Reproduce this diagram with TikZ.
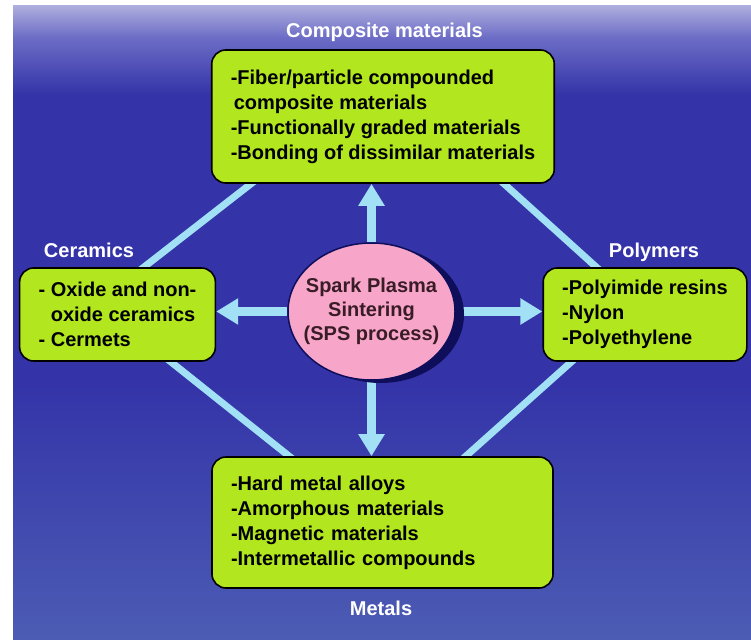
\documentclass[tikz,border=0pt]{standalone}
\usepackage{fontspec}
\setmainfont{Liberation Sans}
\usetikzlibrary{arrows.meta,calc,positioning,shapes.geometric,shadows}

\definecolor{seatop}{HTML}{ADADDE}
\definecolor{seahaze}{HTML}{6C6CC6}
\definecolor{seamid}{HTML}{3434A8}
\definecolor{seabot}{HTML}{4C5CB4}
\definecolor{limebox}{HTML}{B2E61E}
\definecolor{skyline}{HTML}{A2E0F6}
\definecolor{spspink}{HTML}{F7A6C9}
\definecolor{spsnavy}{HTML}{0E0E5A}
\definecolor{spstext}{HTML}{3A1C26}

\pgfdeclareverticalshading{sea}{100bp}{color(0bp)=(seabot); color(25bp)=(seabot);
  color(45bp)=(seamid); color(68bp)=(seamid); color(72.5bp)=(seahaze);
  color(75bp)=(seatop); color(100bp)=(seatop)}

\pgfdeclarelayer{bg}
\pgfdeclarelayer{links}
\pgfsetlayers{bg,links,main}

\newcommand{\boxfont}{\fontsize{20}{25}\selectfont\bfseries}
\newcommand{\headfont}{\fontsize{20}{24}\selectfont\bfseries}

\begin{document}
\begin{tikzpicture}[x=1pt,y=-1pt,
    card/.style={draw=black,line width=1.6pt,fill=limebox,rounded corners=14pt,
      align=left,font=\boxfont,inner xsep=19pt},
    heading/.style={text=white,font=\headfont},
    fatarrow/.style={draw=skyline,line width=9pt,-{Triangle[length=22pt,width=25pt]}},
    rim/.style={draw=skyline,line width=7pt,shorten <=-6pt,shorten >=-6pt}]
  \useasboundingbox (0,0) rectangle (751,639);
  \begin{pgfonlayer}{bg}
    \fill[white] (0,0) rectangle (751,639);
    \shade[shading=sea] (13,6) rectangle (751,639);
  \end{pgfonlayer}

  % centre
  \node[ellipse,draw=spsnavy,line width=1.5pt,fill=spspink,inner sep=0pt,
    minimum width=167pt,minimum height=137pt,
    drop shadow={shadow xshift=9pt,shadow yshift=-3pt,fill=spsnavy,opacity=1}]
    (sps) at (371.5,311.5) {};
  \node[align=center,text=spstext,font=\fontsize{20}{24}\selectfont\bfseries]
    (spstxt) at (sps.center) {Spark Plasma\\Sintering\\(SPS process)};

  % material boxes
  \node[card,minimum width=340pt,minimum height=133pt] (comp) at (383,116.5)
    {-Fiber/particle compounded\\\hspace*{3pt}composite materials\\-Functionally graded materials\\-Bonding of dissimilar materials};
  \node[card,minimum width=189pt,minimum height=93pt] (cer) at (117.5,314.5)
    {- Oxide and non-\\\phantom{- }oxide ceramics\\- Cermets};
  \node[card,minimum width=188pt,minimum height=93pt] (pol) at (645,314.5)
    {-Polyimide resins\\-Nylon\\-Polyethylene};
  \node[card,text width=303pt,minimum height=131pt] (met) at (382.5,522.5)
    {-Hard metal alloys\\-Amorphous materials\\-Magnetic materials\\-Intermetallic compounds};

  % headings
  \node[heading] (complbl) at (384.5,32) {Composite materials};
  \node[heading] (cerlbl) at (89,250) {Ceramics};
  \node[heading] (pollbl) at (654,252) {Polymers};
  \node[heading] (metlbl) at (381,608) {Metals};

  % rim lines
  \coordinate (tl1) at ($(comp.south west)+(40,0)$);
  \coordinate (tl2) at ($(cer.north west)+(125,0)$);
  \coordinate (tr1) at ($(comp.south east)+(-51,0)$);
  \coordinate (tr2) at ($(pol.north west)+(54,0)$);
  \coordinate (bl1) at ($(cer.south west)+(152,0)$);
  \coordinate (bl2) at ($(met.north west)+(78,0)$);
  \coordinate (br1) at ($(pol.south west)+(29,0)$);
  \coordinate (br2) at ($(met.north east)+(-88,0)$);

  \begin{pgfonlayer}{links}
    \draw[rim] (tl1) -- (tl2);
    \draw[rim] (tr1) -- (tr2);
    \draw[rim] (bl1) -- (bl2);
    \draw[rim] (br1) -- (br2);
    \draw[fatarrow] (sps.north) -- (sps.north |- comp.south);
    \draw[fatarrow] (sps.south) -- (sps.south |- met.north);
    \draw[fatarrow] (sps.west) -- (sps.west -| cer.east);
    \draw[fatarrow] (sps.east) -- (sps.east -| pol.west);
  \end{pgfonlayer}
\end{tikzpicture}
\end{document}
